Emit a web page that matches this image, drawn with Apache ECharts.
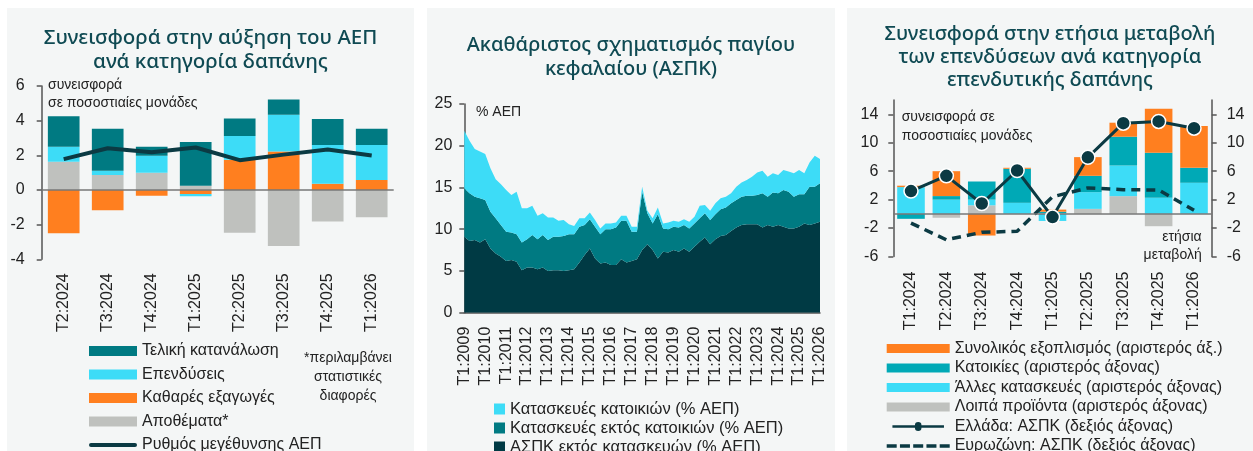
<!DOCTYPE html>
<html lang="el">
<head>
<meta charset="UTF-8">
<title>ΑΕΠ και ΑΣΠΚ</title>
<style>
    body { margin: 0; background: #ffffff; width: 1253px; height: 451px; position: relative; overflow: hidden; }
    .panel { position: absolute; top: 8px; height: 520px; background: #f4f6f6; }
</style>
</head>
<body>
<div id="p1" class="panel" style="left:7px;width:407px"></div>
<div id="p2" class="panel" style="left:427px;width:408px"></div>
<div id="p3" class="panel" style="left:847px;width:406px"></div>
<script src="https://cdn.jsdelivr.net/npm/echarts@6/dist/echarts.min.js"></script>
<script type="text/javascript">
    // --- panel 1: contributions to GDP growth
    var gdpQuarters = ['T2:2024', 'T3:2024', 'T4:2024', 'T1:2025', 'T2:2025', 'T3:2025', 'T4:2025', 'T1:2026'];
    var finalConsumption = [1.77, 2.43, 0.52, 2.52, 1.01, 0.88, 1.49, 0.94];
    var investment = [0.86, 0.25, 0.98, -0.13, 1.38, 2.12, 2.24, 2.03];
    var netExports = [-2.49, -1.17, -0.34, -0.23, 1.74, 2.22, 0.36, 0.57];
    var inventories = [1.63, 0.86, 0.99, 0.25, -2.47, -3.23, -1.82, -1.57];
    var gdpGrowth = [1.78, 2.41, 2.18, 2.45, 1.72, 2.04, 2.33, 1.99];

    // --- panel 2: GFCF % of GDP, quarterly T1:2009 .. T1:2026
    var gfcfOther = [9.1, 8.6, 8.7, 8.4, 8.8, 7.7, 7.1, 6.7, 6.2, 6.3,
        6.1, 5.1, 5.4, 5.4, 5.2, 5.4, 5.0, 5.1, 5.1, 5.0,
        5.1, 5.2, 6.0, 6.9, 7.7, 6.5, 5.9, 6.0, 5.7, 5.7,
        6.4, 6.0, 6.2, 6.4, 7.5, 8.2, 7.5, 6.5, 7.3, 7.2,
        7.5, 7.3, 7.7, 7.3, 7.9, 8.5, 9.0, 8.2, 8.8, 9.2,
        9.3, 9.8, 10.2, 10.5, 10.6, 10.6, 10.6, 10.2, 10.5, 10.3,
        10.5, 10.3, 10.1, 10.1, 10.3, 10.7, 10.5, 10.7, 10.9];
    var nonResConstr = [5.8, 5.7, 5.2, 5.3, 4.7, 4.4, 4.2, 3.8, 3.5, 3.3,
        3.3, 3.3, 3.4, 3.9, 3.6, 3.9, 3.7, 4.0, 4.0, 4.2,
        4.3, 4.2, 4.3, 3.6, 3.5, 3.8, 3.5, 4.0, 4.3, 4.5,
        4.6, 5.0, 3.5, 3.3, 7.0, 3.7, 3.2, 5.3, 2.8, 2.8,
        2.8, 2.9, 2.8, 2.8, 2.8, 2.8, 2.9, 2.9, 3.0, 3.2,
        3.3, 3.3, 3.3, 3.4, 3.4, 3.4, 3.5, 4.1, 3.4, 4.1,
        3.8, 4.4, 4.4, 3.8, 3.9, 3.5, 4.6, 4.4, 4.6];
    var resConstr = [6.9, 6.3, 5.7, 5.6, 5.5, 5.2, 4.7, 4.9, 5.0, 4.5,
        5.1, 4.1, 3.7, 3.5, 2.8, 2.6, 2.7, 2.3, 1.9, 1.9,
        1.2, 1.0, 1.0, 0.8, 0.8, 0.8, 0.7, 0.7, 0.7, 0.6,
        0.6, 0.6, 0.6, 0.6, 0.6, 0.3, 0.6, 0.8, 0.6, 0.8,
        0.7, 0.7, 0.7, 0.8, 0.8, 1.5, 1.0, 1.1, 1.3, 1.3,
        1.3, 1.2, 1.6, 1.7, 1.9, 2.3, 2.7, 2.7, 2.4, 2.3,
        2.2, 2.4, 2.4, 2.8, 2.9, 2.5, 2.9, 3.7, 2.9];
    var gfcfQuarters = [];
    for (var y = 2009; y <= 2026; y++) {
        for (var q = 1; q <= 4; q++) {
            if (y === 2026 && q > 1) break;
            gfcfQuarters.push('T' + q + ':' + y);
        }
    }

    // --- panel 3: contributions to annual change of investment
    var invQuarters = ['T1:2024', 'T2:2024', 'T3:2024', 'T4:2024', 'T1:2025', 'T2:2025', 'T3:2025', 'T4:2025', 'T1:2026'];
    var equipment = [0.2, 3.5, -3.05, 0.14, 0.3, 2.63, 1.97, 6.2, 5.87];
    var dwellings = [-0.7, 0.5, 2.55, 4.79, 0.2, 2.3, 4.05, 6.35, 2.11];
    var otherConstr = [3.76, 2.0, 0.8, 1.55, -1.0, 2.35, 4.31, 2.25, 4.37];
    var otherProducts = [0, -0.55, 1.2, 0, 0.1, 0.7, 2.49, -1.74, 0];
    var greeceGfcf = [3.2, 5.35, 1.45, 6.1, -0.45, 7.95, 12.75, 13.0, 12.05];
    var euroGfcf = [-1.3, -3.65, -2.6, -2.45, 2.4, 3.65, 3.4, 3.35, 0.5];
    var invTicks = [-6, -2, 2, 6, 10, 14];

    var font = 'Liberation Sans';
    var titleFont = 'Noto Sans';
    var titleColor = '#0f4a53';
    var axisColor = '#555555';
    var txt = '#222222';
    var cTeal = '#007a82', cCyan = '#3ddcf7', cOrange = '#ff7f1f', cGrey = '#bfc1be', cDark = '#0b3a43';
    // legend icons for the plain/dashed/marker lines
    var solidIcon = 'path://M2,0 L46,0 A2,2 0 0 1 46,4 L2,4 A2,2 0 0 1 2,0 Z';
    var dashIcon = 'path://M0,0 L10,0 L10,3.5 L0,3.5 Z M13.25,0 L23.25,0 L23.25,3.5 L13.25,3.5 Z M26.5,0 L36.5,0 L36.5,3.5 L26.5,3.5 Z M39.75,0 L49.75,0 L49.75,3.5 L39.75,3.5 Z M53,0 L63,0 L63,3.5 L53,3.5 Z';
    var dotIcon = 'path://M0,3 L27.5,3 A4,4 0 0 1 35.5,3 L63,3 L63,6 L35.5,6 A4,4 0 0 1 27.5,6 L0,6 Z';

    var chart1 = echarts.init(document.getElementById('p1'));
    chart1.setOption({
        animation: false,
        textStyle: {fontFamily: font},
        title: {
            text: 'Συνεισφορά στην αύξηση του ΑΕΠ\nανά κατηγορία δαπάνης',
            left: 'center', top: 13,
            textStyle: {fontSize: 20.5, fontWeight: 500, fontFamily: titleFont, color: titleColor, lineHeight: 24}
        },
        grid: {left: 34.7, top: 78, width: 352, height: 173.3},
        legend: {
            orient: 'vertical', left: 77, top: 329,
            itemWidth: 48, itemHeight: 10, itemGap: 5.5,
            textStyle: {fontSize: 16, color: txt, lineHeight: 18},
            data: [
                {name: 'Τελική κατανάλωση', icon: 'rect'},
                {name: 'Επενδύσεις', icon: 'rect'},
                {name: 'Καθαρές εξαγωγές', icon: 'rect'},
                {name: 'Αποθέματα*', icon: 'rect'},
                {name: 'Ρυθμός μεγέθυνσης ΑΕΠ', icon: solidIcon}
            ]
        },
        graphic: [
            {type: 'text', left: 41, top: 68, style: {text: 'συνεισφορά\nσε ποσοστιαίες μονάδες', fontSize: 14, lineHeight: 18, fill: txt, fontFamily: font}},
            {type: 'text', x: 341, y: 341, style: {text: '*περιλαμβάνει\nστατιστικές\nδιαφορές', fontSize: 14, lineHeight: 19, fill: txt, textAlign: 'center', fontFamily: font}}
        ],
        xAxis: {
            type: 'category', data: gdpQuarters,
            axisLine: {show: false}, axisTick: {show: false},
            axisLabel: {rotate: 90, fontSize: 16, color: txt, margin: 14}
        },
        yAxis: {
            type: 'value', min: -4, max: 6, interval: 2,
            axisLine: {show: true, lineStyle: {color: axisColor, width: 1.5}},
            axisTick: {show: true, length: 5, lineStyle: {color: axisColor, width: 1.5}},
            splitLine: {show: false},
            axisLabel: {fontSize: 16, color: txt, margin: 17}
        },
        series: [
            {name: 'Αποθέματα*', type: 'bar', stack: 'c', barWidth: '72%', data: inventories, itemStyle: {color: cGrey},
                markLine: {silent: true, symbol: 'none', label: {show: false}, lineStyle: {color: '#777', width: 1.5, type: 'solid'}, data: [{yAxis: 0}]}},
            {name: 'Καθαρές εξαγωγές', type: 'bar', stack: 'c', data: netExports, itemStyle: {color: cOrange}},
            {name: 'Επενδύσεις', type: 'bar', stack: 'c', data: investment, itemStyle: {color: cCyan}},
            {name: 'Τελική κατανάλωση', type: 'bar', stack: 'c', data: finalConsumption, itemStyle: {color: cTeal}},
            {name: 'Ρυθμός μεγέθυνσης ΑΕΠ', type: 'line', data: gdpGrowth, symbol: 'none', z: 5,
                lineStyle: {color: cDark, width: 4}, itemStyle: {color: cDark}}
        ]
    });

    var chart2 = echarts.init(document.getElementById('p2'));
    chart2.setOption({
        animation: false,
        textStyle: {fontFamily: font},
        title: {
            text: 'Ακαθάριστος σχηματισμός παγίου\nκεφαλαίου (ΑΣΠΚ)',
            left: 'center', top: 20,
            textStyle: {fontSize: 20, fontWeight: 500, fontFamily: titleFont, color: titleColor, lineHeight: 24}
        },
        grid: {left: 37.3, top: 96, width: 355.7, height: 208.7},
        legend: {
            orient: 'vertical', left: 62, top: 387,
            itemWidth: 11, itemHeight: 11, itemGap: 1,
            textStyle: {fontSize: 16.5, color: txt, lineHeight: 18},
            data: [
                {name: 'Κατασκευές κατοικιών (% ΑΕΠ)', icon: 'rect'},
                {name: 'Κατασκευές εκτός κατοικιών (% ΑΕΠ)', icon: 'rect'},
                {name: 'ΑΣΠΚ εκτός κατασκευών (% ΑΕΠ)', icon: 'rect'}
            ]
        },
        graphic: [
            {type: 'text', left: 49, top: 97, style: {text: '% ΑΕΠ', fontSize: 14, fill: txt, fontFamily: font}}
        ],
        xAxis: {
            type: 'category', data: gfcfQuarters, boundaryGap: false,
            axisLine: {show: true, lineStyle: {color: axisColor, width: 1.5}},
            axisTick: {show: false},
            axisLabel: {rotate: 90, interval: 3, fontSize: 16, color: txt, margin: 14}
        },
        yAxis: {
            type: 'value', min: 0, max: 25, interval: 5,
            axisLine: {show: true, lineStyle: {color: axisColor, width: 1.5}},
            axisTick: {show: true, length: 5, lineStyle: {color: axisColor, width: 1.5}},
            splitLine: {show: false},
            axisLabel: {fontSize: 16, color: txt, margin: 12}
        },
        series: [
            {name: 'ΑΣΠΚ εκτός κατασκευών (% ΑΕΠ)', type: 'line', stack: 'g', data: gfcfOther, symbol: 'none',
                lineStyle: {width: 0}, areaStyle: {color: '#003a44', opacity: 1}, itemStyle: {color: '#003a44'}},
            {name: 'Κατασκευές εκτός κατοικιών (% ΑΕΠ)', type: 'line', stack: 'g', data: nonResConstr, symbol: 'none',
                lineStyle: {width: 0}, areaStyle: {color: cTeal, opacity: 1}, itemStyle: {color: cTeal}},
            {name: 'Κατασκευές κατοικιών (% ΑΕΠ)', type: 'line', stack: 'g', data: resConstr, symbol: 'none',
                lineStyle: {width: 0}, areaStyle: {color: cCyan, opacity: 1}, itemStyle: {color: cCyan}}
        ]
    });

    var invAxis = function (pos) {
        return {
            type: 'value', position: pos, min: -6, max: 16, interval: 4,
            axisLine: {show: true, lineStyle: {color: axisColor, width: 1.5}},
            axisTick: {show: true, length: 5, customValues: invTicks, lineStyle: {color: axisColor, width: 1.5}},
            splitLine: {show: false},
            axisLabel: {fontSize: 16, color: txt, margin: 15, customValues: invTicks}
        };
    };
    var chart3 = echarts.init(document.getElementById('p3'));
    chart3.setOption({
        animation: false,
        textStyle: {fontFamily: font},
        title: {
            text: 'Συνεισφορά στην ετήσια μεταβολή\nτων επενδύσεων ανά κατηγορία\nεπενδυτικής δαπάνης',
            left: 'center', top: 9.5,
            textStyle: {fontSize: 20, fontWeight: 500, fontFamily: titleFont, color: titleColor, lineHeight: 23.3}
        },
        grid: {left: 46.3, top: 92.1, width: 318.4, height: 156.4},
        legend: {
            orient: 'vertical', left: 34.7, top: 326.5,
            itemWidth: 63, itemHeight: 9, itemGap: 1.5,
            textStyle: {fontSize: 16, color: txt, lineHeight: 18},
            data: [
                {name: 'Συνολικός εξοπλισμός (αριστερός άξ.)', icon: 'rect'},
                {name: 'Κατοικίες (αριστερός άξονας)', icon: 'rect'},
                {name: 'Άλλες κατασκευές (αριστερός άξονας)', icon: 'rect'},
                {name: 'Λοιπά προϊόντα (αριστερός άξονας)', icon: 'rect'},
                {name: 'Ελλάδα: ΑΣΠΚ (δεξιός άξονας)', icon: dotIcon, itemStyle: {borderWidth: 0}},
                {name: 'Ευρωζώνη: ΑΣΠΚ (δεξιός άξονας)', icon: dashIcon}
            ]
        },
        graphic: [
            {type: 'text', left: 54.7, top: 99, style: {text: 'συνεισφορά σε\nποσοστιαίες μονάδες', fontSize: 14, lineHeight: 19.3, fill: txt, fontFamily: font}},
            {type: 'text', x: 354.7, y: 220, style: {text: 'ετήσια\nμεταβολή', fontSize: 14, lineHeight: 18.4, fill: txt, textAlign: 'right', fontFamily: font}}
        ],
        xAxis: {
            type: 'category', data: invQuarters,
            axisLine: {show: false}, axisTick: {show: false},
            axisLabel: {rotate: 90, fontSize: 16, color: txt, margin: 15}
        },
        yAxis: [invAxis('left'), invAxis('right')],
        series: [
            {name: 'Λοιπά προϊόντα (αριστερός άξονας)', type: 'bar', stack: 'i', barWidth: '78%', data: otherProducts, itemStyle: {color: cGrey},
                markLine: {silent: true, symbol: 'none', label: {show: false}, lineStyle: {color: '#777', width: 1.5, type: 'solid'}, data: [{yAxis: 0}]}},
            {name: 'Άλλες κατασκευές (αριστερός άξονας)', type: 'bar', stack: 'i', data: otherConstr, itemStyle: {color: cCyan}},
            {name: 'Κατοικίες (αριστερός άξονας)', type: 'bar', stack: 'i', data: dwellings, itemStyle: {color: '#00a9b6'}},
            {name: 'Συνολικός εξοπλισμός (αριστερός άξ.)', type: 'bar', stack: 'i', data: equipment, itemStyle: {color: cOrange}},
            {name: 'Ευρωζώνη: ΑΣΠΚ (δεξιός άξονας)', type: 'line', yAxisIndex: 1, data: euroGfcf, symbol: 'none', z: 4,
                lineStyle: {color: cDark, width: 3.5, type: [9, 6]}, itemStyle: {color: cDark}},
            {name: 'Ελλάδα: ΑΣΠΚ (δεξιός άξονας)', type: 'line', yAxisIndex: 1, data: greeceGfcf, z: 5,
                symbol: 'circle', symbolSize: 14,
                lineStyle: {color: cDark, width: 3}, itemStyle: {color: cDark, borderColor: '#ffffff', borderWidth: 1.5}}
        ]
    });
</script>
</body>
</html>
